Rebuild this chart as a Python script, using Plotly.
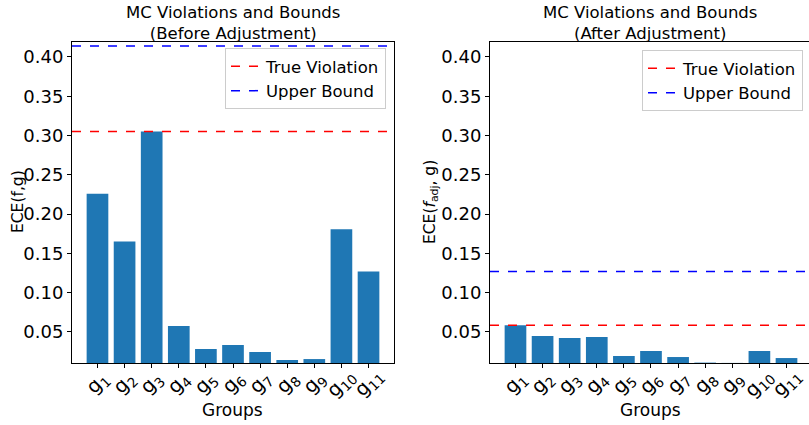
import plotly.graph_objects as go

GROUPS = [f"g<sub>{i}</sub>" for i in range(1, 12)]
BEFORE = [0.226, 0.165, 0.305, 0.0577, 0.0283, 0.0334, 0.0245, 0.0143, 0.0155, 0.1806, 0.1268]
AFTER = [0.0585, 0.0449, 0.0423, 0.0436, 0.0194, 0.0258, 0.0181, 0.0110, 0.0106, 0.0258, 0.0168]
BEFORE_TRUE, BEFORE_BOUND = 0.305, 0.414
AFTER_TRUE, AFTER_BOUND = 0.0585, 0.127
Y_TICKS = [0.05, 0.10, 0.15, 0.20, 0.25, 0.30, 0.35, 0.40]

W, H = 809, 425
FONT = "DejaVu Sans"
BAR = "#1f77b4"


def px(x):
    return x / W


def py(y):
    return 1 - y / H


fig = go.Figure()
fig.add_trace(go.Bar(x=GROUPS, y=BEFORE, marker=dict(color=BAR, line=dict(width=0)),
                     showlegend=False, xaxis="x", yaxis="y"))
fig.add_trace(go.Bar(x=GROUPS, y=AFTER, marker=dict(color=BAR, line=dict(width=0)),
                     showlegend=False, xaxis="x2", yaxis="y2"))

for xa, ya, leg, true_v, bound in [("x", "y", "legend", BEFORE_TRUE, BEFORE_BOUND),
                                   ("x2", "y2", "legend2", AFTER_TRUE, AFTER_BOUND)]:
    for val, color, name in [(true_v, "red", "True Violation"), (bound, "blue", "Upper Bound")]:
        fig.add_shape(type="line", xref=f"{xa} domain", yref=ya, x0=0, x1=1, y0=val, y1=val,
                      line=dict(color=color, width=1.5, dash="dash"),
                      showlegend=True, name=name, legend=leg)

axis_common = dict(showgrid=False, zeroline=False, showline=True, linecolor="black",
                   linewidth=1, ticks="outside", ticklen=4, tickcolor="black")
y_range = [0.0105, 0.419]
ytick_font = dict(family=FONT, size=18, color="black")
y_text = [f"{v:.2f}" for v in Y_TICKS]

legend_style = dict(xanchor="right", yanchor="top", bgcolor="white", bordercolor="#cccccc",
                    borderwidth=1, font=dict(family=FONT, size=16.5), tracegroupgap=0)

fig.update_layout(
    width=W, height=H,
    margin=dict(l=0, r=0, t=0, b=0),
    paper_bgcolor="white", plot_bgcolor="white",
    bargap=0.2,
    font=dict(family=FONT, color="black"),
    xaxis=dict(domain=[px(72), px(394)], range=[-0.94, 10.94], mirror=True,
               showticklabels=False, automargin=False, **axis_common),
    xaxis2=dict(domain=[px(490), 1], range=[-0.94, 10.83], mirror=True,
                showticklabels=False, automargin=False, **axis_common),
    yaxis=dict(domain=[py(363), py(42)], range=y_range, tickvals=Y_TICKS, ticktext=y_text,
               mirror=True, tickfont=ytick_font, anchor="x", automargin=False, **axis_common),
    yaxis2=dict(domain=[py(363), py(42)], range=y_range, tickvals=Y_TICKS, ticktext=y_text,
                mirror=False, tickfont=ytick_font, anchor="x2", automargin=False,
                **axis_common),
    legend=dict(x=px(386), y=py(48), **legend_style),
    legend2=dict(x=px(803), y=py(50), **legend_style),
)

annotations = []
# rotated group labels centred under each tick, like matplotlib rotation=45
for xa in ["x", "x2"]:
    for g in GROUPS:
        annotations.append(dict(text=g, x=g, xref=xa, y=py(383), yref="paper",
                                xanchor="center", yanchor="middle", textangle=-45,
                                showarrow=False, font=dict(family=FONT, size=19.5)))
for text, cx in [("MC Violations and Bounds<br>(Before Adjustment)", 233),
                 ("MC Violations and Bounds<br>(After Adjustment)", 650)]:
    annotations.append(dict(text=text, x=px(cx), y=py(1), xref="paper", yref="paper",
                            xanchor="center", yanchor="top", showarrow=False,
                            font=dict(family=FONT, size=16.5)))
for cx in [233, 650]:
    annotations.append(dict(text="Groups", x=px(cx), y=py(410), xref="paper", yref="paper",
                            xanchor="center", yanchor="middle", showarrow=False,
                            font=dict(family=FONT, size=17)))
for text, cx in [("ECE(f,g)", 18), ("ECE(<i>f</i><sub>adj</sub>, g)", 431)]:
    annotations.append(dict(text=text, x=px(cx), y=py(202), xref="paper", yref="paper",
                            xanchor="center", yanchor="middle", textangle=-90,
                            showarrow=False, font=dict(family=FONT, size=15.5)))
fig.update_layout(annotations=annotations)

fig.write_html("out.html", config={"displayModeBar": False},
               post_script="document.body.style.margin='0';")
